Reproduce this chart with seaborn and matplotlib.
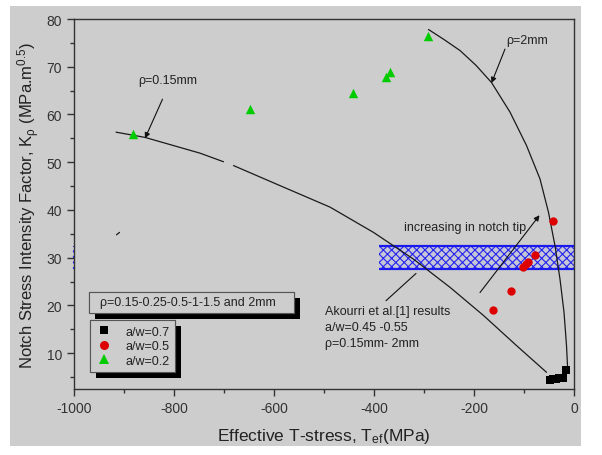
import numpy as np
import pandas as pd
import matplotlib
matplotlib.use("Agg")
import matplotlib.pyplot as plt
import matplotlib.patheffects as pe
from matplotlib.patches import Rectangle
from matplotlib.lines import Line2D
import seaborn as sns

# data
aw07_x = [-49, -43, -36, -30, -23, -17]
aw07_y = [4.4, 4.5, 4.6, 4.7, 4.9, 6.5]
aw05_x = [-163, -126, -103, -97, -92, -79, -43]
aw05_y = [19.1, 23.1, 28.1, 28.7, 29.2, 30.6, 37.7]
aw02_x = [-882, -648, -443, -376, -368, -292]
aw02_y = [55.9, 61.1, 64.4, 67.8, 69.0, 76.5]

# rho = 0.15 mm curve (two pieces, there is a gap in the original)
r015_a_x = [-916, -858, -748, -701]
r015_a_y = [56.3, 55.2, 51.9, 50.1]
r015_b_x = [-681, -588, -488, -401, -321, -248, -181, -115, -55]
r015_b_y = [49.3, 45.1, 40.6, 35.3, 29.7, 23.8, 17.9, 11.6, 6.0]
# rho = 2 mm curve
r2_x = [-291, -260, -228, -196, -165, -128, -95, -68, -51, -38, -28, -20, -15, -13]
r2_y = [77.8, 75.7, 73.4, 70.3, 66.7, 60.5, 53.5, 46.5, 39.5, 32.5, 25.5, 18.6, 11.6, 7.4]

# Akourri et al. band
band_x = [-390, 0]
band_low, band_high = 27.6, 32.4

labels = ["a/w=0.7", "a/w=0.5", "a/w=0.2"]
colors = ["#000000", "#dd0000", "#00cc00"]
markers = ["s", "o", "^"]

bg = "#cdcdcd"
sns.set_style("ticks")
plt.rcParams["font.family"] = ["Liberation Sans", "DejaVu Sans"]
plt.rcParams["mathtext.fontset"] = "custom"
plt.rcParams["mathtext.rm"] = "Liberation Sans"
plt.rcParams["mathtext.it"] = "Liberation Sans:italic"
plt.rcParams["axes.unicode_minus"] = False
plt.rcParams["hatch.linewidth"] = 0.8

fig = plt.figure(figsize=(6.02, 4.56), dpi=100)
fig.patch.set_facecolor("white")
fig.add_artist(Rectangle((10 / 602, 1 - 447 / 456), 571 / 602, 440 / 456,
                         transform=fig.transFigure, facecolor=bg,
                         edgecolor="none", zorder=-10))
ax = fig.add_axes([74 / 602, 1 - 390 / 456, 500 / 602, 370 / 456])
ax.set_facecolor(bg)

# hatched band
ax.fill_between(band_x, band_low, band_high, facecolor="#c6c6d8",
                hatch="xxxx", edgecolor="#2424ee", lw=0, zorder=1)
ax.hlines([band_low, band_high], band_x[0], band_x[1], color="#1a1aee", lw=1.6, zorder=1)
ax.vlines(-1000, band_low, band_high, color="#2020ff", lw=1.5, ls=":", zorder=1, clip_on=False)

# curves
line_kw = dict(sort=False, estimator=None, color="#1a1a1a", lw=0.9, ax=ax, zorder=2)
sns.lineplot(x=r015_a_x, y=r015_a_y, **line_kw)
sns.lineplot(x=r015_b_x, y=r015_b_y, **line_kw)
sns.lineplot(x=r2_x, y=r2_y, **line_kw)
sns.lineplot(x=[-915, -909], y=[34.8, 35.3], **line_kw)

# points
sns.scatterplot(x=aw07_x, y=aw07_y, marker="s", color=colors[0], s=34, linewidth=0, ax=ax, zorder=3)
sns.scatterplot(x=aw05_x, y=aw05_y, marker="o", color=colors[1], s=36, linewidth=0, ax=ax, zorder=3)
sns.scatterplot(x=aw02_x, y=aw02_y, marker="^", color=colors[2], s=46, linewidth=0, ax=ax, zorder=3)

ax.set_xlim(-1000, 0)
ax.set_ylim(2.5, 80)
ax.set_xticks(np.arange(-1000, 1, 200))
ax.set_xticks(np.arange(-900, 0, 200), minor=True)
ax.set_yticks(np.arange(10, 81, 10))
ax.set_yticks(np.arange(5, 80, 10), minor=True)
ax.tick_params(which="major", direction="out", length=5, width=1, colors="#333333",
               labelsize=10, labelcolor="#333333")
ax.tick_params(which="minor", direction="out", length=3, width=1, colors="#333333")
for s in ax.spines.values():
    s.set_visible(True)
    s.set_color("#333333")
    s.set_linewidth(1)

ax.set_xlabel("Effective T-stress, T$_\\mathregular{ef}$(MPa)", fontsize=12.5,
              color="#222222", labelpad=8)
ax.set_ylabel("Notch Stress Intensity Factor, K$_\\mathregular{ρ}$ (MPa.m$^\\mathregular{0.5}$)",
              fontsize=12, color="#222222", labelpad=3)

# annotations
ann_kw = dict(fontsize=9, color="#222222", va="center", ha="left")
arrow = dict(arrowstyle="-|>", color="#111111", lw=0.8, mutation_scale=8, shrinkA=0, shrinkB=0)
ax.text(-872, 67.2, "ρ=0.15mm", **ann_kw)
ax.annotate("", xy=(-858, 55.0), xytext=(-823, 63.2), arrowprops=arrow)
ax.text(-136, 75.5, "ρ=2mm", **ann_kw)
ax.annotate("", xy=(-165, 66.6), xytext=(-138, 73.7), arrowprops=arrow)
ax.text(-341, 36.5, "increasing in notch tip", **ann_kw)
ax.annotate("", xy=(-69, 38.9), xytext=(-188, 22.7), arrowprops=arrow)
ax.text(-498, 18.8, "Akourri et al.[1] results", **ann_kw)
ax.text(-498, 15.5, "a/w=0.45 -0.55", **ann_kw)
ax.text(-498, 12.1, "ρ=0.15mm- 2mm", **ann_kw)
ax.plot([-376, -316], [21.0, 26.7], color="#111111", lw=0.8)

# header box with shadow
shadow = [pe.withSimplePatchShadow(offset=(4.3, -4.3), shadow_rgbFace="black", alpha=1.0), pe.Normal()]
x0, x1 = (89 - 74) / 500, (294 - 74) / 500
y0, y1 = (390 - 314) / 370, (390 - 293) / 370
box = Rectangle((x0, y0), x1 - x0, y1 - y0, transform=ax.transAxes,
                facecolor=bg, edgecolor="#555555", lw=0.8, zorder=5)
box.set_path_effects(shadow)
ax.add_patch(box)
ax.text(x0 + 11 / 500, (y0 + y1) / 2, "ρ=0.15-0.25-0.5-1-1.5 and 2mm",
        transform=ax.transAxes, va="center", ha="left", fontsize=9,
        color="#222222", zorder=6)

handles = [Line2D([], [], ls="", marker=m, color=c, markersize=ms, markeredgewidth=0)
           for m, c, ms in zip(markers, colors, [6, 6.5, 7])]
leg = ax.legend(handles, labels, loc="upper left", bbox_to_anchor=(0.032, 0.186),
                borderaxespad=0, frameon=True, fancybox=False, framealpha=1,
                facecolor=bg, edgecolor="#555555", fontsize=9, handlelength=1.4,
                handletextpad=1.0, labelspacing=0.2, borderpad=0.45)
leg.get_frame().set_linewidth(0.8)
leg.get_frame().set_path_effects(shadow)
for t in leg.get_texts():
    t.set_color("#222222")

fig.savefig("out.png", dpi=100, facecolor=fig.get_facecolor())
